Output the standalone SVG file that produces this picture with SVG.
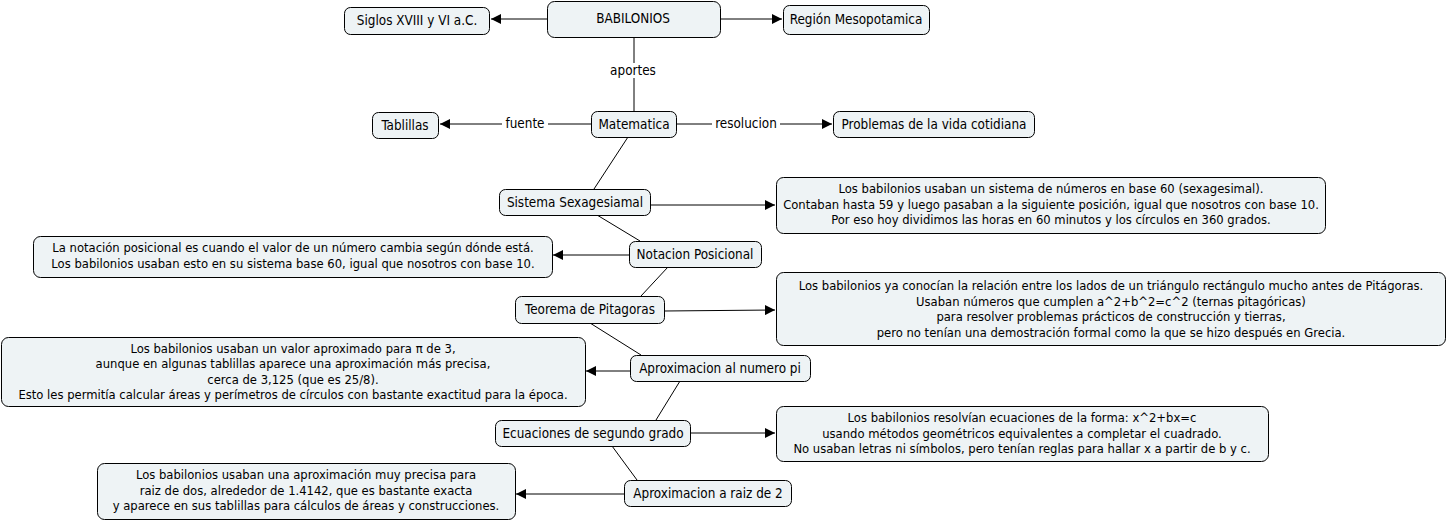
<svg xmlns="http://www.w3.org/2000/svg" width="1448" height="523" viewBox="0 0 1448 523">
<defs>
<marker id="arr" viewBox="0 0 10 10" refX="10" refY="5" markerWidth="10" markerHeight="10" markerUnits="userSpaceOnUse" orient="auto">
<path d="M0,0 L10,5 L0,10 z" fill="#000"/>
</marker>
<style>
.n rect{fill:#eef3f5;stroke:#000;stroke-width:1}
text{font-family:"DejaVu Sans Condensed","DejaVu Sans",sans-serif;font-size:13.4px;fill:#000;text-anchor:middle}
.d text{font-size:12.9px}
.c line,.c path{stroke:#000;stroke-width:1;fill:none}
.c .a{marker-end:url(#arr)}
.lb{fill:#fff}
</style>
</defs>
<rect width="1448" height="523" fill="#fff"/>
<g class="c" id="connectors">
<line class="a" x1="547" y1="19" x2="491" y2="19"/>
<line class="a" x1="720" y1="19" x2="782" y2="19"/>
<line x1="634" y1="37" x2="634" y2="111"/>
<rect class="lb" x="607" y="63" width="52" height="15"/>
<text x="633" y="75">aportes</text>
<line class="a" x1="591" y1="124" x2="440" y2="124"/>
<rect class="lb" x="502" y="117" width="46" height="15"/>
<text x="525" y="128">fuente</text>
<line class="a" x1="676" y1="124" x2="832" y2="124"/>
<rect class="lb" x="712" y="117" width="68" height="15"/>
<text x="746" y="128">resolucion</text>
<line x1="628" y1="137" x2="594" y2="189"/>
<line class="a" x1="650" y1="205" x2="775" y2="205"/>
<line x1="597" y1="215" x2="640" y2="241"/>
<line class="a" x1="629" y1="255" x2="553" y2="255"/>
<line x1="668" y1="267" x2="641" y2="296"/>
<line class="a" x1="664" y1="311" x2="775" y2="310"/>
<line x1="590" y1="323" x2="641" y2="355"/>
<line class="a" x1="630" y1="371" x2="586" y2="371"/>
<line x1="680" y1="381" x2="656" y2="420"/>
<line class="a" x1="690" y1="433" x2="775" y2="433"/>
<line x1="612" y1="446" x2="637" y2="480"/>
<line class="a" x1="624" y1="494" x2="516" y2="494"/>
</g>
<g class="n" id="babilonios"><rect x="547.5" y="1.5" width="173" height="36" rx="7"/><text x="633" y="23">BABILONIOS</text></g>
<g class="n" id="siglos"><rect x="344.5" y="7.5" width="145" height="27" rx="6"/><text x="417" y="25">Siglos XVIII y VI a.C.</text></g>
<g class="n" id="region"><rect x="783.5" y="5.5" width="146" height="29" rx="6"/><text x="856" y="24">Región Mesopotamica</text></g>
<g class="n" id="matematica"><rect x="591.5" y="111.5" width="85" height="26" rx="6"/><text x="634" y="129">Matematica</text></g>
<g class="n" id="tablillas"><rect x="372.5" y="112.5" width="66" height="26" rx="6"/><text x="405" y="130">Tablillas</text></g>
<g class="n" id="problemas"><rect x="833.5" y="111.5" width="201" height="26" rx="6"/><text x="934" y="129">Problemas de la vida cotidiana</text></g>
<g class="n" id="sistema"><rect x="499.5" y="189.5" width="151" height="26" rx="6"/><text x="575" y="207">Sistema Sexagesiamal</text></g>
<g class="n d" id="sistema-desc"><rect x="776.5" y="177.5" width="549" height="56" rx="7"/><text x="1051" y="193">Los babilonios usaban un sistema de números en base 60 (sexagesimal).</text><text x="1051" y="209">Contaban hasta 59 y luego pasaban a la siguiente posición, igual que nosotros con base 10.</text><text x="1051" y="224">Por eso hoy dividimos las horas en 60 minutos y los círculos en 360 grados.</text></g>
<g class="n" id="notacion"><rect x="629.5" y="241.5" width="132" height="26" rx="6"/><text x="695" y="259">Notacion Posicional</text></g>
<g class="n d" id="notacion-desc"><rect x="33.5" y="236.5" width="519" height="41" rx="7"/><text x="293" y="252">La notación posicional es cuando el valor de un número cambia según dónde está.</text><text x="293" y="268">Los babilonios usaban esto en su sistema base 60, igual que nosotros con base 10.</text></g>
<g class="n" id="teorema"><rect x="515.5" y="296.5" width="149" height="27" rx="6"/><text x="590" y="314">Teorema de Pitagoras</text></g>
<g class="n d" id="teorema-desc"><rect x="776.5" y="272.5" width="669" height="73" rx="7"/><text x="1111" y="290">Los babilonios ya conocían la relación entre los lados de un triángulo rectángulo mucho antes de Pitágoras.</text><text x="1111" y="306">Usaban números que cumplen a^2+b^2=c^2 (ternas pitagóricas)</text><text x="1111" y="321">para resolver problemas prácticos de construcción y tierras,</text><text x="1111" y="337">pero no tenían una demostración formal como la que se hizo después en Grecia.</text></g>
<g class="n" id="pi"><rect x="630.5" y="355.5" width="180" height="26" rx="6"/><text x="720" y="373">Aproximacion al numero pi</text></g>
<g class="n d" id="pi-desc"><rect x="1.5" y="337.5" width="584" height="69" rx="7"/><text x="293" y="353">Los babilonios usaban un valor aproximado para π de 3,</text><text x="293" y="368">aunque en algunas tablillas aparece una aproximación más precisa,</text><text x="293" y="384">cerca de 3,125 (que es 25/8).</text><text x="293" y="399">Esto les permitía calcular áreas y perímetros de círculos con bastante exactitud para la época.</text></g>
<g class="n" id="ecuaciones"><rect x="495.5" y="420.5" width="195" height="26" rx="6"/><text x="593" y="438">Ecuaciones de segundo grado</text></g>
<g class="n d" id="ecuaciones-desc"><rect x="776.5" y="406.5" width="492" height="55" rx="7"/><text x="1022" y="422">Los babilonios resolvían ecuaciones de la forma: x^2+bx=c</text><text x="1022" y="438">usando métodos geométricos equivalentes a completar el cuadrado.</text><text x="1022" y="453">No usaban letras ni símbolos, pero tenían reglas para hallar x a partir de b y c.</text></g>
<g class="n" id="raiz"><rect x="624.5" y="480.5" width="167" height="26" rx="6"/><text x="708" y="498">Aproximacion a raiz de 2</text></g>
<g class="n d" id="raiz-desc"><rect x="97.5" y="463.5" width="418" height="56" rx="7"/><text x="306" y="479">Los babilonios usaban una aproximación muy precisa para</text><text x="306" y="495">raiz de dos, alrededor de 1.4142, que es bastante exacta</text><text x="306" y="510">y aparece en sus tablillas para cálculos de áreas y construcciones.</text></g>
</svg>
